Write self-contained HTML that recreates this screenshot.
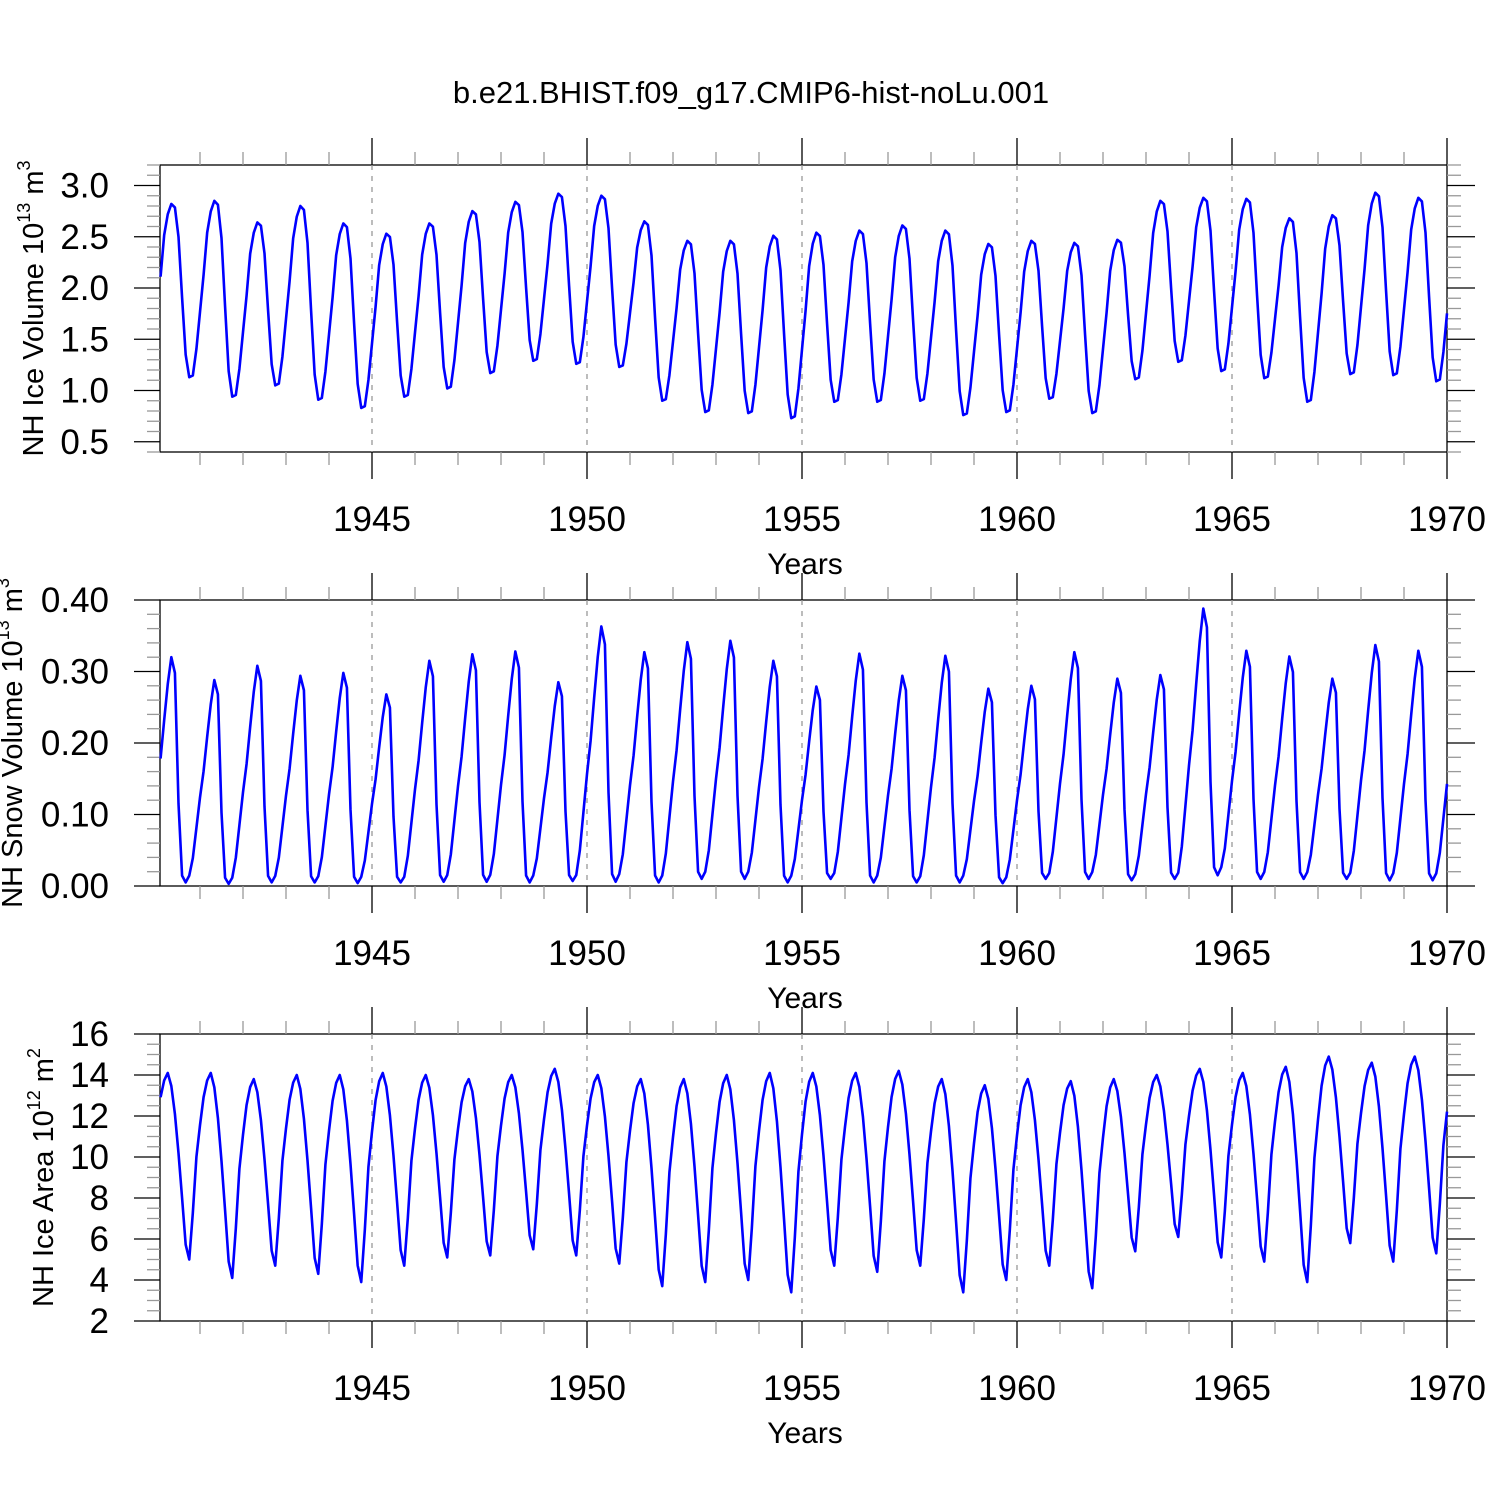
<!DOCTYPE html>
<html><head><meta charset="utf-8"><style>
body{margin:0;background:#fff}
svg{display:block}
text{font-family:"Liberation Sans",sans-serif;fill:#000}
</style></head><body>
<svg id="s" width="1500" height="1500" viewBox="0 0 1500 1500">
<text x="751" y="103" font-size="31" text-anchor="middle">b.e21.BHIST.f09_g17.CMIP6-hist-noLu.001</text>
</svg>
<script>
// Annual values 1940..1969
const years = [1940,1941,1942,1943,1944,1945,1946,1947,1948,1949,1950,1951,1952,1953,1954,1955,1956,1957,1958,1959,1960,1961,1962,1963,1964,1965,1966,1967,1968,1969];
const iceVolMax = [2.82,2.85,2.64,2.80,2.63,2.53,2.63,2.75,2.84,2.92,2.90,2.65,2.46,2.46,2.51,2.54,2.56,2.61,2.56,2.43,2.46,2.44,2.47,2.85,2.88,2.87,2.68,2.71,2.93,2.88];
const iceVolMin = [1.13,0.94,1.05,0.91,0.83,0.94,1.02,1.17,1.29,1.26,1.23,0.90,0.79,0.78,0.73,0.89,0.89,0.90,0.76,0.79,0.92,0.78,1.11,1.28,1.19,1.12,0.89,1.16,1.15,1.09];
const snowMax = [0.32,0.288,0.308,0.294,0.298,0.268,0.315,0.324,0.328,0.285,0.363,0.327,0.341,0.343,0.315,0.279,0.325,0.294,0.322,0.276,0.280,0.327,0.290,0.295,0.388,0.329,0.321,0.290,0.337,0.329];
const snowMin = [0.005,0.003,0.005,0.005,0.004,0.005,0.006,0.006,0.005,0.007,0.006,0.005,0.01,0.01,0.005,0.01,0.005,0.005,0.005,0.004,0.01,0.01,0.008,0.01,0.015,0.01,0.01,0.01,0.008,0.008];
const areaMax = [14.1,14.1,13.8,14.0,14.0,14.1,14.0,13.8,14.0,14.3,14.0,13.8,13.8,14.0,14.1,14.1,14.1,14.2,13.8,13.5,13.8,13.7,13.8,14.0,14.3,14.1,14.4,14.9,14.6,14.9];
const areaMin = [5.0,4.1,4.7,4.3,3.9,4.7,5.1,5.2,5.5,5.2,4.8,3.7,3.9,4.0,3.4,4.7,4.4,4.7,3.4,4.0,4.7,3.6,5.4,6.1,5.1,4.9,3.9,5.8,4.9,5.3];
// Monthly seasonal shape (fraction between min and max), Jan..Dec
const volShape = [0.58,0.82,0.94,1.0,0.98,0.81,0.46,0.13,0.0,0.01,0.16,0.37];
const snowShape = [0.55,0.72,0.88,1.0,0.93,0.35,0.03,0.0,0.03,0.12,0.27,0.42];
const areaShape = [0.87,0.96,1.0,0.93,0.78,0.57,0.33,0.08,0.0,0.25,0.55,0.72];
const volPeakM = 3, snowPeakM = 3, areaPeakM = 2;

function monthly(mx, mn, shape, peakM){
  const out=[];
  for(let y=0;y<mx.length;y++){
    for(let m=0;m<12;m++){
      let lo, hi;
      if(m<=peakM){ lo = mn[Math.max(0,y-1)]; hi = mx[y]; }
      else if(m<=8){ lo = mn[y]; hi = mx[y]; }
      else { lo = mn[y]; hi = mx[Math.min(mx.length-1,y+1)]; }
      out.push(lo + shape[m]*(hi-lo));
    }
  }
  return out;
}

const NS='http://www.w3.org/2000/svg';
const svg=document.getElementById('s');
function el(tag, attrs, parent){
  const e=document.createElementNS(NS,tag);
  for(const k in attrs) e.setAttribute(k,attrs[k]);
  (parent||svg).appendChild(e); return e;
}
const X0=160, X1=1447;
const xs = t => 372 + (t-1945)*43;
const T0 = 1970 - 359/12;

function panel(cfg){
  const g=el('g',{});
  
  
  const {top,bot,vmin,vmax} = cfg;
  const ys = v => bot - (v-vmin)/(vmax-vmin)*(bot-top);
  const fr=el('rect',{x:X0,y:top,width:X1-X0,height:bot-top,fill:'none',stroke:'#000','stroke-width':1.3},g);
  
  
  for(let yr=1941; yr<=1970; yr++){
    const x=xs(yr); const major = yr%5===0; const L = major?27:13;
    el('line',{x1:x,x2:x,y1:top,y2:top-L,stroke:major?'#000':'#999','stroke-width':1.3},g);
    el('line',{x1:x,x2:x,y1:bot,y2:bot+L,stroke:major?'#000':'#999','stroke-width':1.3},g);
    if(major && yr<1970){
      el('line',{x1:x,x2:x,y1:top,y2:bot,stroke:'#999','stroke-width':1.3,'stroke-dasharray':'5,6'},g);
    }
    if(major){
      const t=el('text',{x:x,y:bot+79,'font-size':35,'text-anchor':'middle'},g);
      t.textContent=yr;
      
      
    }
  }
  const xt=el('text',{x:805,y:bot+122,'font-size':30,'text-anchor':'middle'},g);
  xt.textContent='Years';
  
  
  const n=Math.round((vmax-vmin)/cfg.minor);
  for(let i=0;i<=n;i++){
    const v=vmin+i*cfg.minor; const y=ys(v);
    const major = Math.abs(v/cfg.major - Math.round(v/cfg.major))<1e-6;
    const L = major?26:13;
    el('line',{x1:X0,x2:X0-L,y1:y,y2:y,stroke:major?'#000':'#999','stroke-width':1.3},g);
    el('line',{x1:X1,x2:X1+L+(major?2:1),y1:y,y2:y,stroke:major?'#000':'#999','stroke-width':1.3},g);
  }
  cfg.labels.forEach(v=>{
    const t=el('text',{x:109,y:ys(v)+12,'font-size':35,'text-anchor':'end'},g);
    t.textContent=v.toFixed(cfg.dec);
    
    
  });
  const cy=(top+bot)/2;
  const yt=el('text',{x:0,y:0,'font-size':29,'text-anchor':'middle',transform:`translate(${cfg.tx},${cy}) rotate(-90)`},g);
  
  
  yt.appendChild(document.createTextNode(cfg.title+' 10'));
  const sp=document.createElementNS(NS,'tspan'); sp.setAttribute('font-size',18); sp.setAttribute('dy',-13); sp.textContent=cfg.exp; yt.appendChild(sp);
  const sp2=document.createElementNS(NS,'tspan'); sp2.setAttribute('dy',13); sp2.textContent=' m'; yt.appendChild(sp2);
  const sp3=document.createElementNS(NS,'tspan'); sp3.setAttribute('font-size',18); sp3.setAttribute('dy',-13); sp3.textContent=cfg.unitExp; yt.appendChild(sp3);
  const data=cfg.data;
  let d='';
  data.forEach((v,i)=>{ d+=(i?'L':'M')+xs(T0+i/12).toFixed(2)+','+ys(v).toFixed(2); });
  const p=el('path',{d:d,fill:'none',stroke:'#0000ff','stroke-width':2.6,'stroke-linejoin':'round'},g);
  
  
}

panel({name:'ice-volume-panel',series:'ice-volume-line',top:165,bot:452,vmin:0.4,vmax:3.2,minor:0.1,major:0.5,labels:[0.5,1.0,1.5,2.0,2.5,3.0],dec:1,title:'NH Ice Volume',exp:'13',unitExp:'3',tx:43,data:monthly(iceVolMax,iceVolMin,volShape,volPeakM)});
panel({name:'snow-volume-panel',series:'snow-volume-line',top:600,bot:886,vmin:0.0,vmax:0.40,minor:0.02,major:0.1,labels:[0.0,0.1,0.2,0.3,0.4],dec:2,title:'NH Snow Volume',exp:'13',unitExp:'3',tx:22,data:monthly(snowMax,snowMin,snowShape,snowPeakM)});
panel({name:'ice-area-panel',series:'ice-area-line',top:1034,bot:1321,vmin:2,vmax:16,minor:0.5,major:2,labels:[2,4,6,8,10,12,14,16],dec:0,title:'NH Ice Area',exp:'12',unitExp:'2',tx:53,data:monthly(areaMax,areaMin,areaShape,areaPeakM)});
</script>
</body></html>
